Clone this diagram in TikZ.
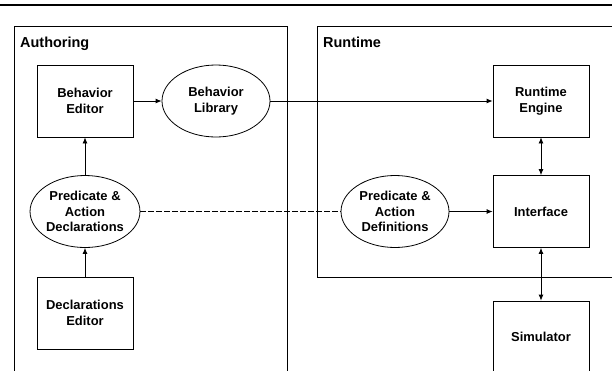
\documentclass[tikz,border=0pt]{standalone}
\usepackage{fontspec}
\setmainfont{Liberation Sans}
\usetikzlibrary{shapes.geometric,arrows.meta}
\begin{document}
\begin{tikzpicture}[x=1bp,y=-1bp,
  boxnode/.style={draw,line width=0.8bp,rectangle,minimum width=96bp,minimum height=72bp,align=center,inner sep=0pt,font=\bfseries\fontsize{13}{15.5}\selectfont},
  ellnode/.style={draw,line width=0.8bp,ellipse,minimum width=108bp,minimum height=72bp,align=center,inner sep=0pt,font=\bfseries\fontsize{13}{15.5}\selectfont},
  titlenode/.style={anchor=base west,inner sep=0pt,font=\bfseries\fontsize{14.5}{16}\selectfont},
  frame/.style={line width=0.8bp},
  conn/.style={line width=0.8bp,-{Latex[length=6bp,width=5bp]}},
  biconn/.style={line width=0.8bp,{Latex[length=6bp,width=5bp]}-{Latex[length=6bp,width=5bp]}}
]
\useasboundingbox (0,0) rectangle (612,370);
\clip (0,0) rectangle (612,370);
\fill[white] (0,0) rectangle (612,370);
\draw[line width=2.5bp] (0,5) -- (612,5);
% frames
\draw[frame] (14,380) -- (14,26) -- (287,26) -- (287,380);
\draw[frame] (620,277) -- (317,277) -- (317,26) -- (620,26);
\node[titlenode] (tauth) at (20,47) {Authoring};
\node[titlenode] (trun) at (323,47) {Runtime};
% nodes
\node[boxnode] (be) at (85,101) {Behavior\\Editor};
\node[ellnode] (bl) at (216,101) {Behavior\\Library};
\node[ellnode] (pad) at (85,211.5) {Predicate \&\\Action\\Declarations};
\node[boxnode] (de) at (85,313) {Declarations\\Editor};
\node[boxnode] (re) at (541,101) {Runtime\\Engine};
\node[boxnode] (itf) at (541,211.5) {Interface};
\node[ellnode] (padef) at (395,211.5) {Predicate \&\\Action\\Definitions};
\node[boxnode] (sim) at (541,337) {Simulator};
% connectors
\draw[conn] (be) -- (bl);
\draw[conn] (bl) -- (re);
\draw[conn] (pad) -- (be);
\draw[conn] (de) -- (pad);
\draw[biconn] (re) -- (itf);
\draw[biconn] (itf) -- (sim);
\draw[line width=0.8bp,dash pattern=on 5.5bp off 2.5bp] (pad) -- (padef);
\draw[conn] (padef) -- (itf);
\end{tikzpicture}
\end{document}
